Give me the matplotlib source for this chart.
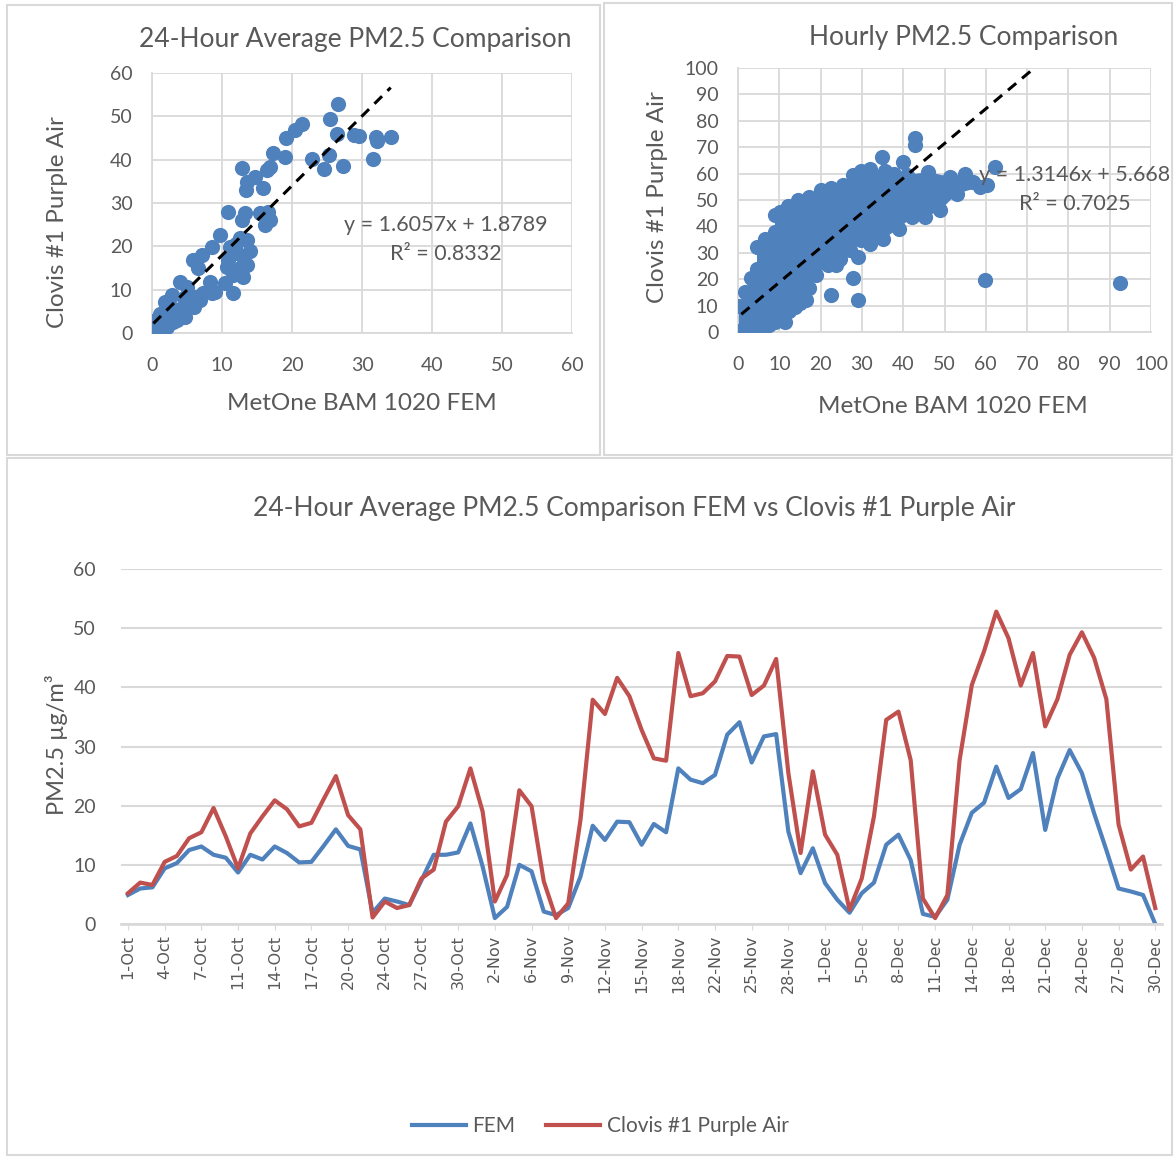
import matplotlib.pyplot as plt
import numpy as np
from matplotlib.lines import Line2D
from matplotlib.patches import Rectangle

plt.rcParams['font.family'] = ['Lato', 'DejaVu Sans']

# ---- data ----
# 24-hour averages, Oct 1 - Dec 30 (85 days with data)
fem = [4.9, 6.0, 6.2, 9.4, 10.3, 12.5, 13.1, 11.7, 11.2, 8.7,
       11.7, 10.9, 13.1, 12.0, 10.4, 10.5, 13.2, 16.0, 13.2, 12.6,
       1.9, 4.3, 3.8, 3.2, 7.4, 11.7, 11.7, 12.1, 17.0, 9.7,
       1.0, 2.9, 10.0, 8.9, 2.1, 1.5, 2.7, 8.0, 16.6, 14.2,
       17.3, 17.2, 13.4, 16.9, 15.5, 26.3, 24.4, 23.8, 25.2, 32.0,
       34.1, 27.3, 31.7, 32.1, 15.6, 8.6, 12.8, 6.9, 4.1, 1.9,
       5.2, 7.0, 13.4, 15.1, 10.8, 1.7, 1.2, 4.1, 13.4, 18.8,
       20.5, 26.6, 21.3, 22.8, 28.9, 15.9, 24.6, 29.4, 25.5, 18.7,
       12.5, 6.0, 5.5, 4.9, 0.0]
purple_air = [5.2, 7.0, 6.6, 10.5, 11.5, 14.5, 15.5, 19.6, 14.8, 9.4,
              15.3, 18.2, 20.9, 19.4, 16.5, 17.1, 21.1, 25.0, 18.4, 16.0,
              1.1, 3.8, 2.7, 3.2, 7.7, 9.2, 17.3, 19.9, 26.3, 19.0,
              3.8, 8.3, 22.6, 19.9, 7.2, 1.0, 3.5, 17.6, 37.9, 35.5,
              41.6, 38.5, 32.8, 28.0, 27.6, 45.8, 38.5, 39.0, 41.0, 45.3,
              45.2, 38.7, 40.3, 44.8, 25.5, 12.0, 25.8, 15.1, 11.7, 2.4,
              7.7, 18.2, 34.5, 35.9, 27.7, 4.3, 1.0, 4.9, 27.7, 40.4,
              46.1, 52.8, 48.3, 40.3, 45.8, 33.4, 38.0, 45.5, 49.3, 45.0,
              38.0, 16.8, 9.2, 11.4, 2.7]
date_labels = ['1-Oct', '4-Oct', '7-Oct', '11-Oct', '14-Oct', '17-Oct', '20-Oct',
               '24-Oct', '27-Oct', '30-Oct', '2-Nov', '6-Nov', '9-Nov', '12-Nov',
               '15-Nov', '18-Nov', '22-Nov', '25-Nov', '28-Nov', '1-Dec', '5-Dec',
               '8-Dec', '11-Dec', '14-Dec', '18-Dec', '21-Dec', '24-Dec', '27-Dec',
               '30-Dec']

# 24-hour scatter (FEM, Purple Air)
daily_x = [0.2, 0.5, 1.1, 1.6, 2.1, 1.1, 1.9, 2.6, 2.8, 3.5, 3.0, 2.3, 3.2, 4.0,
           4.0, 4.7, 5.0, 5.4, 4.5, 6.0, 6.1, 6.9, 5.9, 6.6, 7.1, 7.3, 8.5, 8.3,
           8.5, 9.0, 9.7, 10.4, 10.7, 10.9, 10.9, 11.1, 11.5, 11.6, 12.1, 12.6,
           12.0, 12.5, 12.8, 12.8, 13.0, 13.0, 13.3, 13.4, 13.5, 13.5, 13.5, 14.0,
           14.7, 15.4, 15.9, 16.1, 16.4, 16.6, 16.9, 16.9, 17.3, 19.0, 19.2, 20.4,
           21.4, 22.9, 24.5, 25.3, 25.4, 26.4, 26.6, 27.3, 28.8, 29.6, 31.6, 32.0,
           32.1, 34.1]
daily_y = [2.8, 1.5, 1.2, 0.9, 1.3, 4.5, 7.2, 3.8, 8.8, 3.0, 2.5, 5.0, 5.5, 5.3,
           11.8, 3.8, 10.7, 6.1, 8.0, 6.0, 8.4, 7.6, 16.8, 14.9, 18.0, 9.2, 9.2, 11.8,
           19.9, 9.5, 22.6, 11.5, 15.3, 16.8, 28.0, 19.9, 13.5, 9.2, 18.4, 14.9,
           20.5, 22.0, 26.1, 38.0, 17.6, 13.0, 27.6, 33.0, 21.5, 15.7, 34.9, 19.0,
           36.1, 27.6, 33.4, 24.9, 37.6, 28.0, 26.1, 38.4, 41.5, 40.7, 44.9, 46.8,
           48.3, 40.2, 37.8, 41.1, 49.3, 45.9, 52.8, 38.5, 45.7, 45.5, 40.1, 45.2,
           44.4, 45.2]

# hourly scatter: outline of the dense cloud (marker centres) and the loose points
cloud_x = [0.2, 0.2, 1.6, 3.2, 4.6, 4.6, 6.5, 8.9, 9.0, 10.1, 12.1, 14.5, 17.3,
           20.2, 22.6, 25.4, 27.8, 29.8, 32.0, 35.5, 37.7, 41.0, 46.1, 51.4, 55.0,
           57.0, 60.2, 58.6, 53.0, 49.0, 45.3, 42.1, 38.9, 35.2, 32.0, 29.8, 27.0,
           24.6, 21.8, 19.0, 17.3, 16.5, 15.0, 13.7, 12.3, 10.9, 8.9, 7.5, 5.6,
           3.5, 1.6]
cloud_y = [0.5, 10.0, 15.2, 20.3, 24.0, 32.3, 35.4, 38.0, 44.3, 45.6, 47.8, 50.0,
           51.3, 53.8, 54.4, 55.7, 59.5, 60.8, 61.9, 61.0, 60.0, 59.5, 60.6, 58.7,
           60.0, 56.8, 55.6, 54.9, 52.4, 46.1, 43.5, 43.5, 39.1, 35.3, 33.4, 34.8,
           31.0, 27.8, 25.3, 21.5, 16.5, 12.0, 11.0, 9.5, 8.0, 6.3, 3.8, 2.5, 1.3,
           0.3, 0.5]
loose_x = [22.6, 29.0, 27.8, 29.0, 23.8, 34.8, 40.0, 42.8, 42.8, 62.3, 59.8, 92.5, 11.3]
loose_y = [13.9, 12.0, 20.3, 28.5, 25.3, 66.3, 64.4, 73.3, 70.8, 62.5, 19.7, 18.6, 3.8]

daily_fit = (1.6057, 1.8789)
hourly_fit = (1.3146, 5.668)

# ---- styling ----
W, H = 1174, 1159
BLUE = '#4F81BD'
RED = '#C0504D'
TXT = '#595959'
GRID = '#D9D9D9'


def fx(px):
    return px / W


def fy(py):
    return 1 - py / H


def box(x0, y0, x1, y1):
    return [fx(x0), fy(y1), fx(x1) - fx(x0), fy(y0) - fy(y1)]


def style(ax):
    for s in ['top', 'right']:
        ax.spines[s].set_visible(False)
    for s in ['left', 'bottom']:
        ax.spines[s].set_color(GRID)
        ax.spines[s].set_linewidth(1.3)
    ax.grid(True, color=GRID, linewidth=1.3)
    ax.set_axisbelow(True)
    ax.tick_params(length=0, labelsize=14, colors=TXT, pad=14)
    ax.tick_params(axis='x', pad=17)


fig = plt.figure(figsize=(W / 100, H / 100), dpi=100)

for x0, y0, x1, y1 in [(7, 5, 600, 455), (604, 3, 1172, 455), (7, 458, 1172, 1155)]:
    fig.patches.append(Rectangle((fx(x0), fy(y1)), fx(x1) - fx(x0), fy(y0) - fy(y1),
                                 transform=fig.transFigure, fill=False,
                                 edgecolor=GRID, linewidth=1.5))

# top-left: 24-hour scatter
ax1 = fig.add_axes(box(152, 73, 572, 333))
style(ax1)
ax1.scatter(daily_x, daily_y, s=120, color=BLUE, linewidths=0, zorder=3)
fx1 = np.array([min(daily_x), max(daily_x)])
ax1.plot(fx1, daily_fit[0] * fx1 + daily_fit[1], color='black', lw=2.2,
         dashes=(3.5, 2.5), zorder=4)
ax1.set_xlim(0, 60)
ax1.set_ylim(0, 60)
ax1.set_xticks(range(0, 61, 10))
ax1.set_yticks(range(0, 61, 10))
fig.text(fx(355), fy(40), '24-Hour Average PM2.5 Comparison', ha='center', va='center',
         fontsize=19, color=TXT)
fig.text(fx(58), fy(222), 'Clovis #1 Purple Air', rotation=90, ha='center', va='center',
         fontsize=17.5, color=TXT)
fig.text(fx(362), fy(403), 'MetOne BAM 1020 FEM', ha='center', va='center',
         fontsize=17.5, color=TXT)
ax1.text(42.0, 21.5, 'y = 1.6057x + 1.8789\nR² = 0.8332', ha='center', va='center',
         fontsize=15.5, color=TXT, linespacing=1.55)

# top-right: hourly scatter
ax2 = fig.add_axes(box(738, 68, 1151, 332))
style(ax2)
ax2.fill(cloud_x, cloud_y, color=BLUE, lw=0, zorder=3)
ax2.scatter(cloud_x, cloud_y, s=120, color=BLUE, linewidths=0, zorder=3)
ax2.scatter(loose_x, loose_y, s=120, color=BLUE, linewidths=0, zorder=3)
fx2 = np.array([0.8, 92.5])
ax2.plot(fx2, hourly_fit[0] * fx2 + hourly_fit[1], color='black', lw=2.2,
         dashes=(3.5, 2.5), zorder=4)
ax2.set_xlim(0, 100)
ax2.set_ylim(0, 100)
ax2.set_xticks(range(0, 101, 10))
ax2.set_yticks(range(0, 101, 10))
fig.text(fx(964), fy(38), 'Hourly PM2.5 Comparison', ha='center', va='center',
         fontsize=19, color=TXT)
fig.text(fx(658), fy(197), 'Clovis #1 Purple Air', rotation=90, ha='center', va='center',
         fontsize=17.5, color=TXT)
fig.text(fx(953), fy(407), 'MetOne BAM 1020 FEM', ha='center', va='center',
         fontsize=17.5, color=TXT)
ax2.text(81.5, 54.0, 'y = 1.3146x + 5.668\nR² = 0.7025', ha='center', va='center',
         fontsize=15.5, color=TXT, linespacing=1.55, clip_on=False, zorder=5)

# bottom: time series
ax3 = fig.add_axes(box(121, 569, 1162, 924))
days = np.arange(len(fem))
ax3.plot(days, fem, color=BLUE, lw=3, solid_joinstyle='round', label='FEM')
ax3.plot(days, purple_air, color=RED, lw=3, solid_joinstyle='round',
         label='Clovis #1 Purple Air')
for s in ['top', 'right', 'left']:
    ax3.spines[s].set_visible(False)
ax3.spines['bottom'].set_color(GRID)
ax3.spines['bottom'].set_linewidth(2)
ax3.yaxis.grid(True, color=GRID, linewidth=1.5)
ax3.set_axisbelow(True)
ax3.set_xlim(-0.57, 84.55)
ax3.set_ylim(0, 60)
ax3.set_yticks(range(0, 61, 10))
ax3.set_xticks(days[::3])
ax3.set_xticklabels(date_labels, rotation=90, family='DejaVu Sans', fontsize=11.5)
ax3.tick_params(axis='y', length=0, labelsize=14, colors=TXT, pad=18)
ax3.tick_params(axis='x', length=4, color=GRID, labelcolor=TXT, pad=4)
fig.text(fx(634), fy(508), '24-Hour Average PM2.5 Comparison FEM vs Clovis #1 Purple Air',
         ha='center', va='center', fontsize=19, color=TXT)
fig.text(fx(57), fy(745), 'PM2.5 µg/m³', rotation=90, ha='center', va='center',
         fontsize=17, color=TXT)
handles = [Line2D([], [], color=BLUE, lw=3), Line2D([], [], color=RED, lw=3)]
fig.legend(handles, ['FEM', 'Clovis #1 Purple Air'], loc='center',
           bbox_to_anchor=(fx(600), fy(1126)), ncol=2, frameon=False,
           fontsize=15, labelcolor=TXT, handlelength=2.6, handletextpad=0.3,
           columnspacing=1.5)

fig.savefig('out.png', dpi=100)
